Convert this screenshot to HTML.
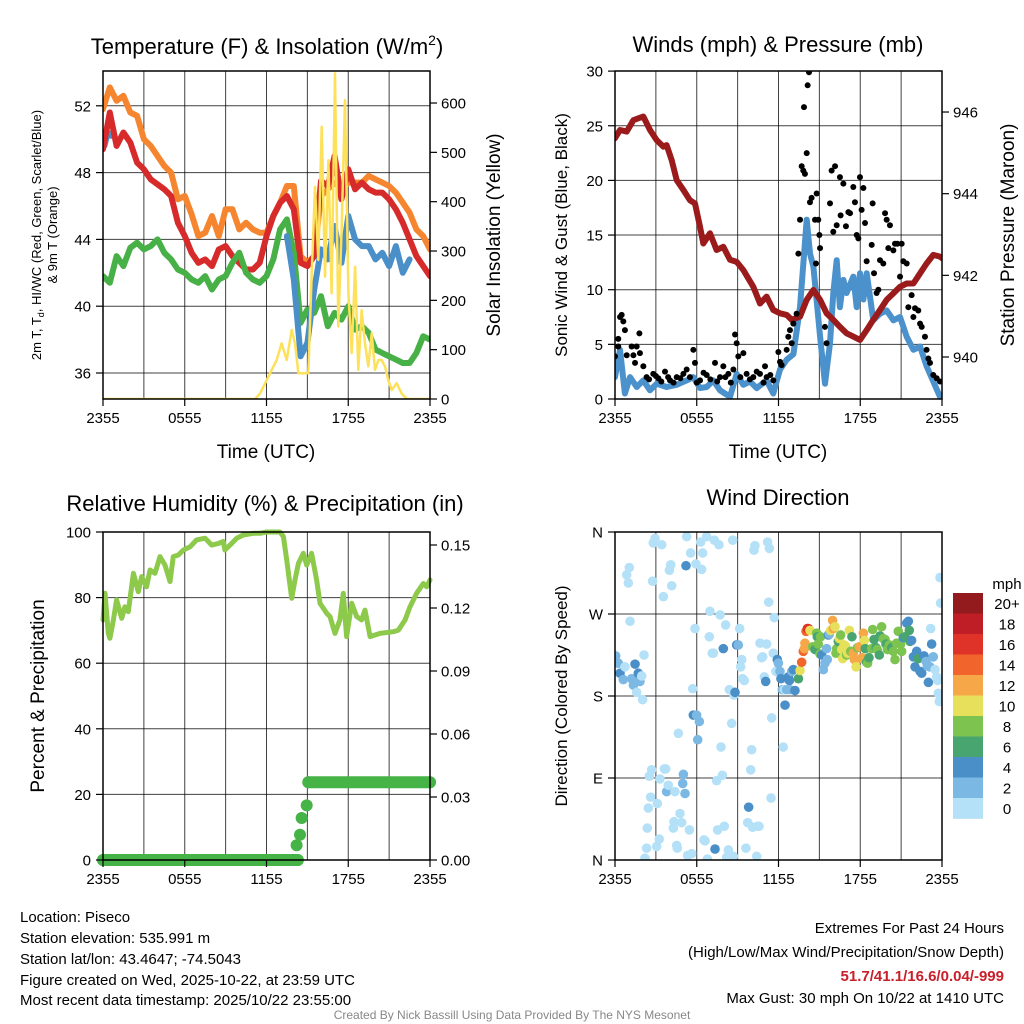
<!DOCTYPE html>
<html><head><meta charset="utf-8"><title>Piseco Meteogram</title>
<style>
html,body{margin:0;padding:0;background:#fff;}
svg{display:block;font-family:"Liberation Sans",Arial,sans-serif;}
</style></head>
<body>
<svg id="fig" xmlns="http://www.w3.org/2000/svg" width="1024" height="1024" viewBox="0 0 1024 1024">
<rect x="0" y="0" width="1024" height="1024" fill="#fff"/>
<defs>
<clipPath id="c1"><rect x="103" y="71" width="327" height="328"/></clipPath>
<clipPath id="c2"><rect x="615" y="71" width="327" height="328"/></clipPath>
<clipPath id="c3"><rect x="103" y="532" width="327" height="328"/></clipPath>
<clipPath id="c4"><rect x="615" y="532" width="327" height="328"/></clipPath>
</defs>
<g id="grids"></g>
<g id="marks"></g>
<g id="axes"></g>
<text x="267" y="54" font-size="22" text-anchor="middle">Temperature (F) &amp; Insolation (W/m<tspan font-size="14" dy="-9">2</tspan><tspan dy="9">)</tspan></text>
<text x="778" y="52" font-size="22" text-anchor="middle">Winds (mph) &amp; Pressure (mb)</text>
<text x="265" y="511" font-size="22" text-anchor="middle">Relative Humidity (%) &amp; Precipitation (in)</text>
<text x="778" y="505" font-size="22" text-anchor="middle">Wind Direction</text>
<text x="266" y="458" font-size="19" text-anchor="middle">Time (UTC)</text>
<text x="778" y="458" font-size="19" text-anchor="middle">Time (UTC)</text>
<text transform="translate(41,235) rotate(-90)" font-size="13" text-anchor="middle"><tspan x="0" dy="0">2m T, T<tspan font-size="9" dy="3">d</tspan><tspan dy="-3">, HI/WC (Red, Green, Scarlet/Blue)</tspan></tspan><tspan x="0" dy="16">&amp; 9m T (Orange)</tspan></text>
<text transform="translate(500,235) rotate(-90)" font-size="19" text-anchor="middle">Solar Insolation (Yellow)</text>
<text transform="translate(567,235) rotate(-90)" font-size="17" text-anchor="middle">Sonic Wind &amp; Gust (Blue, Black)</text>
<text transform="translate(1014,235) rotate(-90)" font-size="19" text-anchor="middle">Station Pressure (Maroon)</text>
<text transform="translate(44,696) rotate(-90)" font-size="19" text-anchor="middle">Percent &amp; Precipitation</text>
<text transform="translate(567,696) rotate(-90)" font-size="17" text-anchor="middle">Direction (Colored By Speed)</text>
<g id="cbar"></g>
<text x="1007" y="589" font-size="15" text-anchor="middle">mph</text>
<g font-size="15">
<text x="20" y="922">Location: Piseco</text>
<text x="20" y="943">Station elevation: 535.991 m</text>
<text x="20" y="964">Station lat/lon: 43.4647; -74.5043</text>
<text x="20" y="985">Figure created on Wed, 2025-10-22, at 23:59 UTC</text>
<text x="20" y="1005">Most recent data timestamp: 2025/10/22 23:55:00</text>
</g>
<g font-size="15" text-anchor="end">
<text x="1004" y="933">Extremes For Past 24 Hours</text>
<text x="1004" y="957">(High/Low/Max Wind/Precipitation/Snow Depth)</text>
<text x="1004" y="981" fill="#c8202a" font-weight="bold">51.7/41.1/16.6/0.04/-999</text>
<text x="1004" y="1003">Max Gust: 30 mph On 10/22 at 1410 UTC</text>
</g>
<text x="512" y="1019" font-size="12" fill="#888" text-anchor="middle">Created By Nick Bassill Using Data Provided By The NYS Mesonet</text>
</svg>
<script>
// ---------- Panel 1: temperature (hours since 2355) ----------
const tempHours = [0,0.5,1,1.5,2,2.5,3,3.5,4,4.5,5,5.5,6,6.5,7,7.5,8,8.5,9,9.5,10,10.5,11,11.5,12,12.5,13,13.5,14,14.5,15,15.5,16,16.5,17,17.5,18,18.5,19,19.5,20,20.5,21,21.5,22,22.5,23,23.5,24];
const temp9m = [51.8,53.1,52.3,52.6,51.6,51.4,50.0,49.6,49.0,48.4,48.0,46.4,46.6,45.5,44.2,44.4,45.4,44.2,45.8,45.8,44.6,45.0,44.6,44.4,44.4,45.4,46.2,47.2,47.2,43.0,42.6,43.0,46.6,47.0,47.4,47.0,47.4,47.4,47.4,47.8,47.6,47.4,47.2,46.8,46.2,45.6,44.6,44.2,43.4];
const temp2m = [49.4,51.6,49.6,50.4,49.8,48.6,48.2,47.6,47.3,47.0,46.6,45.0,44.2,43.2,42.6,42.8,42.4,43.4,43.6,43.0,42.6,42.2,42.2,42.6,44.2,45.4,46.2,46.6,45.8,42.6,42.4,43.0,47.5,47.2,49.0,46.4,48.2,47.0,47.4,47.0,46.8,46.8,46.4,45.8,45.0,44.0,43.0,42.4,41.8];
const dewpoint = [41.8,41.4,43.0,42.4,43.5,43.8,43.4,43.6,44.0,43.2,42.8,42.2,42.0,41.6,41.4,41.8,41.0,41.6,41.8,42.6,43.2,42.0,41.6,41.4,41.8,42.8,44.6,45.2,43.2,39.0,39.8,39.6,40.6,38.8,39.6,39.2,40.0,38.6,38.8,38.4,37.4,37.2,37.0,36.8,36.6,36.6,37.2,38.2,38.0];
const chillHoursA = [0.1,0.35,0.6];
const chillA = [49.6,50.4,50.2];
const chillHoursB = [13.5,14,14.5,15,15.5,16,16.5,17,17.5,18,18.5,19,19.5,20,20.5,21,21.5,22,22.5];
const chillB = [44.2,41.6,37.0,37.8,41.0,43.4,42.8,44.8,42.6,45.4,44.0,43.6,43.6,42.8,43.2,42.4,43.6,42.0,42.8];
const solarHours = [0,11.16,11.52,12.01,12.38,12.75,13.11,13.48,13.85,14.09,14.34,14.70,15.07,15.31,15.56,15.80,16.05,16.29,16.54,16.78,17.03,17.27,17.52,17.76,18.01,18.25,18.50,18.74,18.98,19.23,19.47,19.72,19.96,20.21,20.45,20.70,20.94,21.19,21.55,21.92,22.29,24];
const solar = [0,0,11,38,59,79,113,79,140,113,52,52,52,248,430,282,552,248,484,214,660,147,349,606,214,93,268,59,180,113,66,133,59,79,79,66,38,18,32,11,0,0];
const tempTicks = [36,40,44,48,52];
const solarTicks = [0,100,200,300,400,500,600];
const timeTickHours = [0,6,12,18,24];
const timeTickLabels = ["2355","0555","1155","1755","2355"];
const gridHours = [3,6,9,12,15,18,21];

// ---------- Panel 2: winds & pressure ----------
const presHours = [0,0.37,0.86,1.35,2.08,2.57,3.06,3.55,3.79,4.16,4.53,5.02,5.50,5.87,6.24,6.48,6.97,7.46,7.95,8.44,8.93,9.42,10.15,10.64,11.13,11.62,12.11,12.60,12.97,13.58,14.07,14.56,15.05,15.53,16.02,16.51,17.00,17.49,17.98,18.47,18.96,19.45,19.94,20.43,20.92,21.41,21.90,22.39,22.87,23.36,23.85,24];
const pressure = [945.36,945.56,945.52,945.80,945.89,945.56,945.31,945.15,945.19,944.82,944.33,944.09,943.84,943.76,943.19,942.78,943.03,942.62,942.70,942.38,942.33,942.13,941.72,941.31,941.48,941.15,941.07,941.03,940.91,940.99,941.40,941.64,941.40,941.07,940.91,940.74,940.58,940.50,940.42,940.66,940.91,941.15,941.40,941.56,941.72,941.80,941.80,942.05,942.29,942.50,942.46,942.42];
const windHours = [0,0.37,0.73,1.10,1.59,2.08,2.57,3.06,3.79,4.53,5.26,5.75,6.24,6.73,7.22,7.71,8.44,8.93,9.42,9.91,10.40,11.13,11.62,12.11,12.60,13.09,13.58,14.07,14.31,14.56,15.05,15.41,15.78,16.02,16.27,16.51,16.76,17.00,17.49,17.74,17.98,18.23,18.47,18.96,19.45,19.94,20.43,20.92,21.41,21.90,22.39,22.87,23.36,23.85];
const windSpeed = [2.0,4.5,0.5,2.0,1.1,1.7,0.8,1.4,1.1,1.3,1.7,2.0,1.0,1.1,1.7,0.8,0.2,2.3,1.3,1.6,1.0,1.7,0.5,2.7,3.6,4.1,8.4,16.4,13.3,12.1,5.7,1.4,5.1,9.7,12.7,8.4,10.9,9.7,11.2,8.4,11.5,9.1,11.5,7.2,7.8,8.1,7.2,7.5,5.7,4.5,4.8,3.0,1.6,0.2];
const gustHours = [0.00,0.24,0.37,0.49,0.61,0.24,0.73,0.86,1.22,1.35,1.59,1.79,1.83,1.47,2.08,2.32,2.81,3.18,3.67,4.04,4.53,5.02,5.26,5.75,5.87,6.24,6.73,7.34,7.71,7.95,8.32,8.69,8.81,8.93,9.05,9.42,9.66,10.15,10.64,11.01,11.13,11.62,11.99,12.11,12.23,12.60,12.72,12.84,12.97,13.09,13.33,13.46,13.58,13.70,13.82,13.87,13.94,14.07,14.14,14.24,14.31,14.43,14.68,14.80,14.92,15.05,14.75,15.00,15.41,15.53,15.78,15.90,16.02,16.15,16.27,16.51,16.56,16.76,16.95,17.13,17.25,17.49,17.61,17.74,17.86,17.98,18.10,18.23,18.35,18.47,18.84,18.91,19.01,19.20,19.33,19.45,19.69,19.82,19.94,20.06,20.18,20.43,20.55,20.72,20.92,21.04,21.16,21.41,21.53,21.77,21.90,22.02,22.26,22.39,22.51,22.75,22.87,23.00,23.12,23.36,23.61,23.85,2.5,3.0,3.4,3.9,4.3,4.8,5.5,6.0,6.5,7.0,7.5,8.1,8.5,9.2,9.9,10.4,10.9,11.4];
const gust = [3.9,4.8,7.5,7.7,7.1,5.5,6.3,4.0,4.8,4.0,4.8,6.0,4.2,3.3,3.0,2.0,2.3,1.9,2.5,1.7,2.0,2.3,2.7,4.5,3.3,1.7,2.2,3.3,2.0,3.0,2.3,2.7,5.9,5.1,3.9,4.2,2.3,2.0,2.3,3.0,2.0,1.7,4.3,3.4,3.1,4.5,5.7,6.3,5.1,6.9,7.8,13.3,16.4,21.3,20.9,26.7,20.6,22.5,28.7,29.9,18.0,18.4,16.4,18.8,16.4,13.8,12.4,15.0,6.6,5.1,17.9,20.9,15.3,21.3,15.9,20.3,16.8,19.7,15.8,17.1,17.0,19.4,18.0,15.0,14.7,20.3,17.3,19.3,16.1,12.6,14.1,17.9,11.5,9.7,10.0,12.7,12.4,17.0,16.4,13.8,15.9,13.6,14.2,14.2,11.2,14.2,12.6,12.4,8.4,9.5,7.5,8.3,8.1,6.9,6.6,5.7,4.5,3.7,3.3,2.2,1.9,1.6,1.8,2.1,1.6,2.0,1.5,1.9,2.0,1.5,2.4,1.8,1.6,2.0,1.5,2.0,1.8,2.5,1.5,2.2];
const windTicks = [0,5,10,15,20,25,30];
const presTicks = [940,942,944,946];

// ---------- Panel 3: humidity & precipitation ----------
const rhHours = [0,0.15,0.39,0.51,0.76,1.00,1.37,1.61,1.86,2.10,2.23,2.59,2.84,3.20,3.45,3.82,4.18,4.55,4.92,5.16,5.53,5.90,6.39,6.87,7.49,7.98,8.46,8.83,8.95,9.32,9.81,10.30,11.03,11.52,12.01,12.99,13.24,13.48,13.85,14.09,14.34,14.70,14.95,15.31,15.68,15.93,16.42,16.66,17.03,17.39,17.64,17.88,18.25,18.62,18.98,19.23,19.60,20.33,21.31,21.68,22.17,22.53,23.02,23.51,23.76,24];
const rh = [73.2,81.3,69.1,67.6,73.2,79.3,73.7,77.2,75.7,83.3,87.4,81.8,86.4,83.3,88.4,87.4,92.5,89.9,84.9,92.5,93.0,94.5,95.5,97.6,98.1,96.0,96.5,97.1,94.5,96.0,98.1,99.1,99.6,99.6,100,100,98.6,91.5,79.8,85.4,90.4,93.5,89.9,93.5,85.4,78.3,75.2,74.2,69.1,73.2,81.3,68.1,78.3,74.2,73.2,76.2,68.1,69.1,69.6,70.1,73.2,77.2,81.3,84.3,83.3,85.4];
const precipHours = [0,14.3,14.21,14.46,14.58,14.95,15.07,24];
const precip = [0,0,0.007,0.012,0.02,0.026,0.037,0.037];
const rhTicks = [0,20,40,60,80,100];
const precipTicks = [0,0.03,0.06,0.09,0.12,0.15];

// ---------- Panel 4: wind direction dots ----------
const dirHours = [0.05,0.24,0.37,0.61,0.73,0.86,0.98,1.05,1.10,1.22,
1.35,1.47,1.59,1.71,1.83,1.96,2.03,2.13,2.20,2.32,
2.37,2.45,2.52,2.62,2.69,2.76,2.81,2.94,3.06,3.11,
3.25,3.30,3.43,3.55,3.62,3.72,3.79,3.91,3.99,4.09,
4.16,4.28,4.33,4.40,4.53,4.57,4.65,4.77,4.89,4.97,
5.02,5.14,5.21,5.26,5.33,5.46,5.55,5.63,5.70,5.75,
5.87,5.94,5.99,6.07,6.19,6.29,6.36,6.43,6.53,6.61,
6.73,6.78,6.92,6.97,7.14,7.22,7.29,7.34,7.46,7.53,
7.63,7.71,7.78,7.88,7.95,8.02,8.12,8.20,8.32,8.39,
8.56,8.64,8.69,8.73,8.81,8.93,9.05,9.15,9.22,9.30,
9.37,9.49,9.61,9.74,9.81,9.96,10.03,10.10,10.20,10.27,
10.40,10.47,10.57,10.64,10.76,10.84,10.96,11.06,11.13,11.20,
11.28,11.33,11.45,11.50,11.62,11.69,11.81,11.91,11.99,12.11,
12.18,12.28,12.35,12.43,12.48,12.60,12.72,12.80,12.84,12.97,
13.09,13.21,13.46,13.58,13.70,13.82,13.90,13.94,14.02,14.12,
14.19,14.31,14.51,14.68,14.80,14.85,14.92,15.05,15.09,15.17,
15.29,15.41,15.53,15.58,15.66,15.73,15.83,15.97,16.02,16.15,
16.22,16.27,16.39,16.47,16.56,16.64,16.71,16.81,16.91,17.00,
17.08,17.20,17.30,17.39,17.49,17.57,17.69,17.79,17.93,18.06,
18.13,18.23,18.30,18.37,18.47,18.54,18.64,18.84,18.91,19.01,
19.16,19.25,19.40,19.45,19.57,19.69,19.82,19.89,19.99,20.13,
20.31,20.43,20.55,20.67,20.79,20.96,21.04,21.16,21.28,21.41,
21.53,21.60,21.65,21.77,21.90,22.02,22.14,22.26,22.39,22.51,
22.68,22.83,22.92,23.00,23.12,23.17,23.24,23.36,23.49,23.61,
23.68,23.73,23.80,23.85,23.90];
const dirDeg = [224,216,205,198,212,313,304,321,262,199,
192,215,184,205,196,202,176,225,2,13,
35,57,92,69,99,306,348,353,15,62,
23,89,346,289,100,100,75,82,318,324,
301,35,42,75,16,13,139,51,41,84,
94,73,323,355,5,33,337,7,188,159,
254,325,159,132,152,349,319,337,22,21,
355,1,245,273,227,227,351,12,87,33,
346,269,124,93,232,37,258,3,11,187,
150,351,4,181,184,236,236,254,212,220,
199,197,13,41,58,99,121,36,340,345,
4,37,37,238,222,223,201,196,237,349,
283,342,68,156,227,266,207,220,216,207,
199,187,124,187,170,187,201,197,187,207,
209,186,199,208,217,229,232,238,251,254,
254,252,234,231,249,245,237,226,245,225,
209,216,232,220,247,248,252,263,254,256,
227,232,240,243,247,231,221,236,235,225,
227,252,229,245,227,220,212,233,234,221,
222,249,241,232,217,216,222,232,253,242,
233,231,225,246,256,243,242,237,231,236,
233,229,220,238,251,237,229,244,245,260,
262,252,240,241,223,212,229,221,207,205,
224,218,213,195,212,254,237,223,209,201,
197,183,174,310,282];
const dirSpeed = [3,3,5,3,1,1,1,1,1,3,
3,5,1,5,3,1,1,1,1,1,
1,1,1,1,1,1,1,1,1,1,
1,1,1,1,1,1,3,1,1,1,
1,1,1,1,1,1,1,1,1,3,
3,3,5,1,1,1,1,1,1,5,
1,1,3,3,3,1,1,1,1,1,
1,1,1,1,1,1,1,5,1,1,
1,1,1,1,5,1,1,1,1,1,
1,1,1,1,5,5,3,1,1,1,
1,1,1,1,5,1,1,1,1,1,
1,1,1,1,1,1,1,5,1,1,
1,1,1,1,1,1,1,5,3,3,
5,3,1,1,5,3,5,5,3,3,
5,5,7,11,15,15,13,13,15,17,
17,11,9,7,9,7,9,9,9,5,
3,3,3,3,5,3,11,13,13,11,
9,9,7,11,9,11,11,11,11,9,
11,11,9,7,13,13,11,9,13,13,
13,13,11,7,7,9,7,9,9,7,
7,9,7,7,9,9,9,7,9,9,
7,9,9,9,9,9,9,5,7,5,
5,7,7,5,5,5,5,7,5,5,
5,3,3,5,3,1,5,3,1,1,
1,1,1,1,1];
const dirTicks = [0,90,180,270,360];
const dirTickLabels = ["N","E","S","W","N"];
const cbarLabels = ["20+","18","16","14","12","10","8","6","4","2","0"];
const cbarColors = ["#931a1d","#bf1e27","#df3329","#f1642c","#f6a848","#e6e05b","#7dc350","#49a56f","#4a8fc7","#7bb8e3","#b4e1f7"];

// ---------- scales ----------
const NS = "http://www.w3.org/2000/svg";
const X1 = t => 103 + t * 327 / 24;
const X2 = t => 615 + t * 327 / 24;
const yT = v => 373 - (v - 36) * 16.7;
const yS = w => 399 - w * 0.4933;
const yW = m => 399 - m * 10.93;
const yP = p => 357 - (p - 940) * 40.83;
const yR = r => 860 - r * 3.28;
const yPr = p => 860 - p * 2100;
const yD = d => 860 - d * 0.9111;

function mk(tag, attrs, parent) {
  const e = document.createElementNS(NS, tag);
  for (const k in attrs) e.setAttribute(k, attrs[k]);
  parent.appendChild(e);
  return e;
}
const grids = document.getElementById("grids");
const marks = document.getElementById("marks");
const axes = document.getElementById("axes");
const cbar = document.getElementById("cbar");

function ptsStr(xs, ys, fx, fy) { return xs.map((t, i) => fx(t).toFixed(1) + "," + fy(ys[i]).toFixed(1)).join(" "); }

const panels = [
  {x0:103, y0:71, y1:399, fx:X1, name:"temperature"},
  {x0:615, y0:71, y1:399, fx:X2, name:"winds"},
  {x0:103, y0:532, y1:860, fx:X1, name:"humidity"},
  {x0:615, y0:532, y1:860, fx:X2, name:"direction"}
];
panels.forEach(p => {
  gridHours.forEach(h => {
    const g = mk("line", {x1:p.fx(h), x2:p.fx(h), y1:p.y0, y2:p.y1, stroke:"#000", "stroke-width":1, "stroke-opacity":0.75}, grids);
    
    
  });
  timeTickHours.forEach((h, i) => {
    const tk = mk("line", {x1:p.fx(h), x2:p.fx(h), y1:p.y1, y2:p.y1 + 7, stroke:"#000", "stroke-width":1.2}, axes);
    
    
    const lb = mk("text", {x:p.fx(h), y:p.y1 + 24, "font-size":15, "text-anchor":"middle"}, axes);
    lb.textContent = timeTickLabels[i];
    
    
  });
  const fr = mk("rect", {x:p.x0, y:p.y0, width:327, height:p.y1 - p.y0, fill:"none", stroke:"#000", "stroke-width":1.5}, axes);
  
  
});

function hgrid(ys, x0, name) {
  ys.forEach(y => {
    const g = mk("line", {x1:x0, x2:x0 + 327, y1:y, y2:y, stroke:"#000", "stroke-width":1, "stroke-opacity":0.75}, grids);
    
    
  });
}
function yticks(vals, labels, fy, xAxis, side, name) {
  vals.forEach((v, i) => {
    const y = fy(v);
    const dx = side === "left" ? -7 : 7;
    const tk = mk("line", {x1:xAxis, x2:xAxis + dx, y1:y, y2:y, stroke:"#000", "stroke-width":1.2}, axes);
    
    
    const lb = mk("text", {x: side === "left" ? xAxis - 12 : xAxis + 11, y: y + 5.5, "font-size":15, "text-anchor": side === "left" ? "end" : "start"}, axes);
    lb.textContent = labels[i];
    
    
  });
}

// ----- panel 1 -----
hgrid(tempTicks.map(yT), 103, "temperature");
yticks(tempTicks, tempTicks.map(String), yT, 103, "left", "temperature-y");
yticks(solarTicks, solarTicks.map(String), yS, 430, "right", "solar-y");
const g1 = mk("g", {"clip-path":"url(#c1)", fill:"none", "stroke-linejoin":"round", "stroke-linecap":"round"}, marks);


const l9 = mk("polyline", {points:ptsStr(tempHours, temp9m, X1, yT), stroke:"#f6852f", "stroke-width":6}, g1);


const lbA = mk("polyline", {points:ptsStr(chillHoursA, chillA, X1, yT), stroke:"#4a8fc7", "stroke-width":6}, g1);


const lT = mk("polyline", {points:ptsStr(tempHours, temp2m, X1, yT), stroke:"#d62a2b", "stroke-width":6}, g1);


const lD = mk("polyline", {points:ptsStr(tempHours, dewpoint, X1, yT), stroke:"#47b046", "stroke-width":6}, g1);


const lbB = mk("polyline", {points:ptsStr(chillHoursB, chillB, X1, yT), stroke:"#4a8fc7", "stroke-width":6}, g1);


const lS = mk("polyline", {points:ptsStr(solarHours, solar, X1, yS), stroke:"#fde15a", "stroke-width":2.5}, g1);



// ----- panel 2 -----
hgrid(windTicks.slice(1, 6).map(yW), 615, "winds");
yticks(windTicks, windTicks.map(String), yW, 615, "left", "wind-y");
yticks(presTicks, presTicks.map(String), yP, 942, "right", "pressure-y");
const g2 = mk("g", {"clip-path":"url(#c2)", "stroke-linejoin":"round", "stroke-linecap":"round"}, marks);


const lW = mk("polyline", {points:ptsStr(windHours, windSpeed, X2, yW), fill:"none", stroke:"#4b91cb", "stroke-width":6}, g2);


const lP = mk("polyline", {points:ptsStr(presHours, pressure, X2, yP), fill:"none", stroke:"#9b1b1d", "stroke-width":6}, g2);


gustHours.forEach((t, i) => {
  const c = mk("circle", {cx:X2(t), cy:yW(gust[i]), r:3, fill:"#000"}, g2);
  
  
});

// ----- panel 3 -----
hgrid(rhTicks.slice(1, 5).map(yR), 103, "humidity");
yticks(rhTicks, rhTicks.map(String), yR, 103, "left", "humidity-y");
yticks(precipTicks, precipTicks.map(v => v.toFixed(2)), yPr, 430, "right", "precip-y");
const g3 = mk("g", {"stroke-linejoin":"round", "stroke-linecap":"round"}, marks);


const lR = mk("polyline", {points:ptsStr(rhHours, rh, X1, yR), fill:"none", stroke:"#8dc94b", "stroke-width":5}, g3);


for (let i = 1; i < precipHours.length; i++) {
  if (precip[i] === precip[i - 1]) {
    const s = mk("line", {x1:X1(precipHours[i - 1]), x2:X1(precipHours[i]), y1:yPr(precip[i]), y2:yPr(precip[i]), stroke:"#46b347", "stroke-width":12}, g3);
    
    
  }
}
precipHours.forEach((t, i) => {
  const c = mk("circle", {cx:X1(t), cy:yPr(precip[i]), r:6, fill:"#46b347"}, g3);
  
  
});

// ----- panel 4 -----
hgrid(dirTicks.slice(1, 4).map(yD), 615, "direction");
yticks(dirTicks, dirTickLabels, yD, 615, "left", "direction-y");
const g4 = mk("g", {"clip-path":"url(#c4)"}, marks);


dirHours.forEach((t, i) => {
  const sp = dirSpeed[i] === undefined ? 0 : dirSpeed[i];
  const idx = Math.min(10, Math.floor(sp / 2));
  const c = mk("circle", {cx:X2(t), cy:yD(dirDeg[i]), r:4.8, fill:cbarColors[10 - idx]}, g4);
  
  
});

// ----- colorbar -----
cbarLabels.forEach((lab, i) => {
  const y = 593 + i * 20.5;
  const r = mk("rect", {x:953, y:y, width:30, height:20.8, fill:cbarColors[i]}, cbar);
  
  
  const t = mk("text", {x:1007, y:y + 16, "font-size":15, "text-anchor":"middle"}, cbar);
  t.textContent = lab;
  
  
});
</script>
</body></html>
